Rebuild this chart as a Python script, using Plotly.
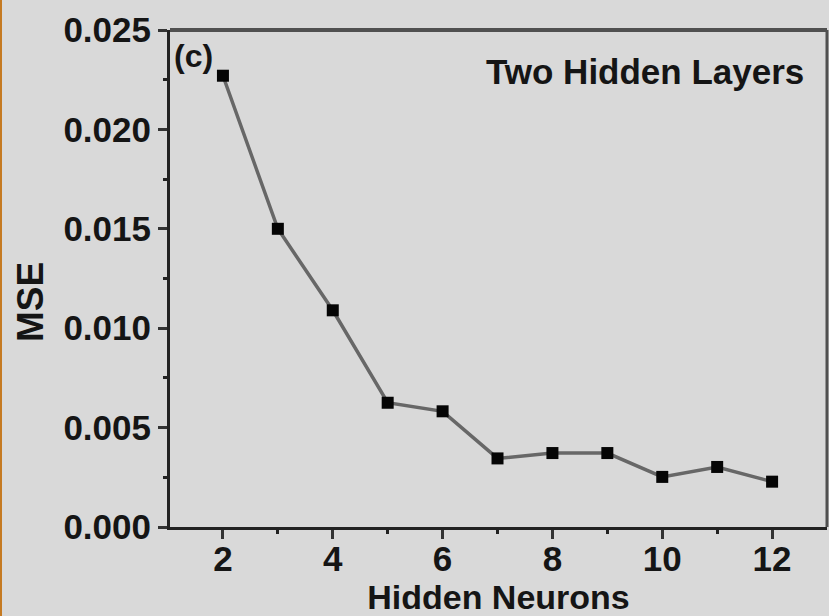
import plotly.graph_objects as go

# Mean squared error vs. number of hidden neurons (two hidden layers)
hidden_neurons = [2, 3, 4, 5, 6, 7, 8, 9, 10, 11, 12]
mse = [0.0227, 0.0150, 0.0109, 0.00625, 0.00582, 0.00345, 0.00372, 0.00372, 0.00252, 0.00302, 0.00228]

x_ticks = [2, 4, 6, 8, 10, 12]
y_ticks = [0.000, 0.005, 0.010, 0.015, 0.020, 0.025]
y_tick_labels = ["0.000", "0.005", "0.010", "0.015", "0.020", "0.025"]

BG = "#d9d9d9"
INK = "#151515"
FONT = "Liberation Sans"

W, H = 829, 616
ML, MR, MT, MB = 170, 2, 30, 89
PW, PH = W - ML - MR, H - MT - MB

fig = go.Figure()
fig.add_trace(go.Scatter(
    x=hidden_neurons, y=mse, mode="lines+markers",
    line=dict(color="#676767", width=3.5),
    marker=dict(symbol="square", size=12, color="#050505",
                line=dict(width=0)),
    showlegend=False,
))

axis_common = dict(
    showgrid=False, zeroline=False, showline=True,
    linecolor="#222222", linewidth=3,
    ticks="outside", ticklen=9, tickwidth=3, tickcolor="#333333",
    tickfont=dict(family=FONT, size=35, color=INK, weight="bold"),
)

fig.update_xaxes(
    range=[1.036, 13.0], tickmode="array", tickvals=x_ticks,
    ticktext=[str(v) for v in x_ticks],
    ticklabelstandoff=-10,
    minor=dict(tickvals=[3, 5, 7, 9, 11], ticklen=4, tickwidth=3,
               tickcolor="#222222", ticks="outside"),
    title=dict(text="Hidden Neurons", standoff=3,
               font=dict(family=FONT, size=34, color=INK, weight="bold")),
    **axis_common,
)
fig.update_yaxes(
    range=[0.0, 0.025], tickmode="array", tickvals=y_ticks,
    ticktext=y_tick_labels,
    minor=dict(tickvals=[0.0025, 0.0075, 0.0125, 0.0175, 0.0225], ticklen=4,
               tickwidth=3, tickcolor="#222222", ticks="outside"),
    **axis_common,
)

shapes = [
    # top and right frame of the plot box
    dict(type="line", xref="paper", yref="paper", x0=0, x1=1, y0=1, y1=1,
         line=dict(color="#505050", width=4)),
    dict(type="line", xref="paper", yref="paper", x0=1, x1=1, y0=0, y1=1,
         line=dict(color="#505050", width=3)),
    # thin orange edge on the far left of the figure
    dict(type="line", xref="paper", yref="paper",
         x0=-(ML - 1) / PW, x1=-(ML - 1) / PW, y0=-MB / PH, y1=1 + MT / PH,
         line=dict(color="#c57a22", width=2)),
]

annotations = [
    # y-axis title, placed a little below the vertical centre of the axis
    dict(text="MSE", textangle=-90, xref="paper", yref="paper",
         x=-(ML - 30) / PW, y=1 - (302 - MT) / PH,
         xanchor="center", yanchor="middle", showarrow=False,
         font=dict(family=FONT, size=37, color=INK, weight="bold")),
    dict(text="(c)", xref="paper", yref="paper", x=2 / PW, y=1 - 6 / PH,
         xanchor="left", yanchor="top", showarrow=False,
         font=dict(family=FONT, size=32, color=INK, weight="bold")),
    dict(text="Two Hidden Layers", xref="paper", yref="paper",
         x=1 - 21 / PW, y=1 - 41 / PH, xanchor="right", yanchor="middle",
         showarrow=False,
         font=dict(family=FONT, size=35, color=INK, weight="bold")),
]

fig.update_layout(
    width=W, height=H,
    margin=dict(l=ML, r=MR, t=MT, b=MB, pad=0),
    paper_bgcolor=BG, plot_bgcolor=BG,
    shapes=shapes, annotations=annotations,
)

fig.write_html("out.html")
